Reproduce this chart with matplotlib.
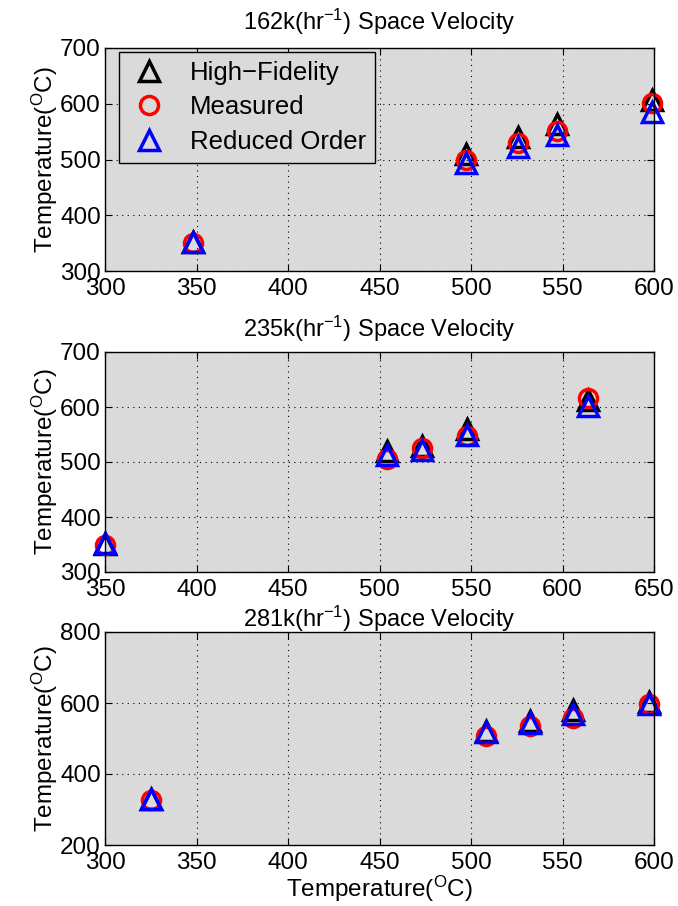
import matplotlib
matplotlib.use("Agg")
import matplotlib.pyplot as plt

plt.rcParams['font.family'] = ['Liberation Sans', 'DejaVu Sans']
plt.rcParams['mathtext.fontset'] = 'custom'
plt.rcParams['mathtext.rm'] = 'Liberation Sans'
plt.rcParams['mathtext.it'] = 'Liberation Sans'
plt.rcParams['mathtext.default'] = 'regular'

# ---- data ----
titles = [r'162k(hr$^{-1}$) Space Velocity',
          r'235k(hr$^{-1}$) Space Velocity',
          r'281k(hr$^{-1}$) Space Velocity']

x1 = [348, 497, 525.5, 547, 599]
hf1 = [352, 510, 540, 563, 607]
me1 = [350, 500, 530, 551, 602]
ro1 = [352, 494, 523, 544, 586]

x2 = [350, 504, 523, 548, 614]
hf2 = [351, 520, 530, 560, 612]
me2 = [350, 505, 526, 548, 617]
ro2 = [352, 513, 522, 550, 601]

x3 = [325, 508, 532, 556, 597]
hf3 = [330, 522, 550, 580, 603]
me3 = [327, 507, 535, 558, 598]
ro3 = [330, 517, 545, 570, 598]

xlims = [(300, 600), (350, 650), (300, 600)]
xticks = [[300, 350, 400, 450, 500, 550, 600],
          [350, 400, 450, 500, 550, 600, 650],
          [300, 350, 400, 450, 500, 550, 600]]
ylims = [(300, 700), (300, 700), (200, 800)]
yticks = [[300, 400, 500, 600, 700],
          [300, 400, 500, 600, 700],
          [200, 400, 600, 800]]
title_pads = [13, 11, 3.5]

series = [(x1, hf1, me1, ro1), (x2, hf2, me2, ro2), (x3, hf3, me3, ro3)]
labels = ['High\u2212Fidelity', 'Measured', 'Reduced Order']

W, H = 678, 906
fig = plt.figure(figsize=(W / 100, H / 100), dpi=100)
boxes = [(48, 271), (352, 572), (632, 845)]
left, right = 105, 654

ylab = r'Temperature($^{O}$C)'
for i, (top, bot) in enumerate(boxes):
    ax = fig.add_axes([left / W, 1 - bot / H, (right - left) / W, (bot - top) / H])
    ax.set_facecolor('#dadada')
    x, hf, me, ro = series[i]
    ms, mew = 15, 2.5
    ax.plot(x, hf, linestyle='none', marker='^', markersize=ms, markeredgewidth=mew,
            markerfacecolor='none', markeredgecolor='black', label=labels[0], clip_on=False)
    ax.plot(x, me, linestyle='none', marker='o', markersize=ms - 2, markeredgewidth=mew,
            markerfacecolor='none', markeredgecolor='red', label=labels[1], clip_on=False)
    ax.plot(x, ro, linestyle='none', marker='^', markersize=ms, markeredgewidth=mew,
            markerfacecolor='none', markeredgecolor='blue', label=labels[2], clip_on=False)
    ax.set_xlim(*xlims[i])
    ax.set_ylim(*ylims[i])
    ax.set_xticks(xticks[i])
    ax.set_yticks(yticks[i])
    ax.grid(True, linestyle=(0, (1, 4)), color='black', linewidth=0.8)
    ax.tick_params(direction='in', top=True, right=True, length=5, width=0.8,
                   labelsize=17.5)
    ax.tick_params(axis='x', pad=5)
    ax.tick_params(axis='y', pad=3)
    for s in ax.spines.values():
        s.set_linewidth(1.0)
    ax.set_title(titles[i], fontsize=17, pad=title_pads[i])
    ax.set_ylabel(ylab, fontsize=17.5, labelpad=0)
    if i == 0:
        leg = ax.legend(loc='upper left', bbox_to_anchor=(0.0255, 0.982),
                        borderaxespad=0, fontsize=18.5,
                        frameon=True, fancybox=False, framealpha=1,
                        facecolor='#dadada', edgecolor='black',
                        handletextpad=0.8, borderpad=0.35, labelspacing=0.4,
                        handlelength=1.6)
        leg.get_frame().set_linewidth(1.0)
    if i == 2:
        ax.set_xlabel(ylab, fontsize=17.5, labelpad=0)

fig.savefig('out.png', dpi=100, facecolor='white')
